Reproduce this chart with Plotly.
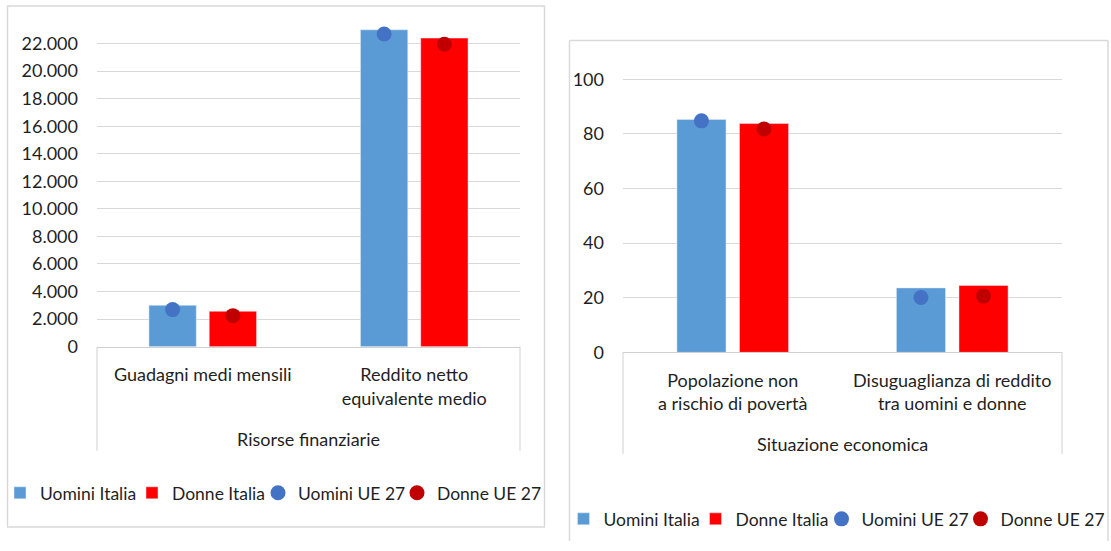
import plotly.graph_objects as go

# ---------------- data ----------------
cats_left = ["Guadagni medi mensili", "Reddito netto<br>equivalente medio"]
group_left = "Risorse finanziarie"
cats_right = ["Popolazione non<br>a rischio di povertà", "Disuguaglianza di reddito<br>tra uomini e donne"]
group_right = "Situazione economica"
series_names = ["Uomini Italia", "Donne Italia", "Uomini UE 27", "Donne UE 27"]

uomini_italia_left = [3000, 23000]
donne_italia_left = [2570, 22400]
uomini_ue_left = [2690, 22700]
donne_ue_left = [2250, 21950]

uomini_italia_right = [85.3, 23.6]
donne_italia_right = [83.8, 24.5]
uomini_ue_right = [84.8, 20.1]
donne_ue_right = [81.8, 20.6]

# ---------------- style ----------------
C_UI = "#5B9BD5"
C_DI = "#FF0000"
C_UE_U = "#4472C4"
C_UE_D = "#C00000"
FONT = "Lato"
FS = 18
FS_LEG = 17.5
TXT = "#1f1f1f"
GRID = "#D9D9D9"
W = 1111      # page width (px)
HE = 540      # visible plotting height of the page (px)
LEG_WIDTHS = [87, 81, 94, 100]   # legend entry widths (px)


def px_x(p):
    return p / W


def px_y(p):
    return (HE - p) / HE


fig = go.Figure()

panels = [
    ("x", "y", "legend", cats_left,
     [uomini_italia_left, donne_italia_left, uomini_ue_left, donne_ue_left]),
    ("x2", "y2", "legend2", cats_right,
     [uomini_italia_right, donne_italia_right, uomini_ue_right, donne_ue_right]),
]

for xa, ya, lg, cats, vals in panels:
    fig.add_trace(go.Bar(x=cats, y=vals[0], name=series_names[0], marker_color=C_UI,
                         offsetgroup="u", xaxis=xa, yaxis=ya, legend=lg,
                         legendwidth=LEG_WIDTHS[0]))
    fig.add_trace(go.Bar(x=cats, y=vals[1], name=series_names[1], marker_color=C_DI,
                         offsetgroup="d", xaxis=xa, yaxis=ya, legend=lg,
                         legendwidth=LEG_WIDTHS[1]))
    fig.add_trace(go.Scatter(x=cats, y=vals[2], name=series_names[2], mode="markers",
                             marker=dict(color=C_UE_U, size=15), offsetgroup="u",
                             xaxis=xa, yaxis=ya, legend=lg, legendwidth=LEG_WIDTHS[2]))
    fig.add_trace(go.Scatter(x=cats, y=vals[3], name=series_names[3], mode="markers",
                             marker=dict(color=C_UE_D, size=15), offsetgroup="d",
                             xaxis=xa, yaxis=ya, legend=lg, legendwidth=LEG_WIDTHS[3]))

# geometry (pixels)
L_X0, L_X1, L_Y0, L_YTOP = 97, 520, 346, 25
R_X0, R_X1, R_Y0, R_YTOP = 623, 1062, 351.7, 60

xcommon = dict(showgrid=False, showline=True, linecolor="#D0D0D0", linewidth=1,
               ticks="", tickfont=dict(family=FONT, size=FS, color=TXT),
               ticklabelstandoff=12, fixedrange=True)
ycommon = dict(showgrid=True, gridcolor=GRID, gridwidth=1, zeroline=False,
               showline=False, ticks="", tickfont=dict(family=FONT, size=FS, color=TXT),
               ticklabelstandoff=18, fixedrange=True)
legcommon = dict(orientation="h", xanchor="left", yanchor="middle",
                 font=dict(family=FONT, size=FS_LEG, color=TXT), itemwidth=30,
                 tracegroupgap=0, bgcolor="rgba(0,0,0,0)")

fig.update_layout(
    autosize=True,
    margin=dict(l=0, r=0, t=0, b=0),
    paper_bgcolor="white", plot_bgcolor="white",
    separators=",.",
    barmode="group", bargap=0.43, bargroupgap=0.215,
    scattermode="group", scattergap=0.43,
    font=dict(family=FONT, size=FS, color=TXT),
    xaxis=dict(domain=[px_x(L_X0), px_x(L_X1)], anchor="y", **xcommon),
    yaxis=dict(domain=[px_y(L_Y0), px_y(L_YTOP)], anchor="x",
               range=[0, (L_Y0 - L_YTOP) / 27.5 * 2000], dtick=2000,
               tickformat=",d", **ycommon),
    xaxis2=dict(domain=[px_x(R_X0), px_x(R_X1)], anchor="y2", **xcommon),
    yaxis2=dict(domain=[px_y(R_Y0), px_y(R_YTOP)], anchor="x2",
                range=[0, (R_Y0 - R_YTOP) / 54.5 * 20], dtick=20, **ycommon),
    legend=dict(x=px_x(0), y=px_y(492), **legcommon),
    legend2=dict(x=px_x(563.5), y=px_y(518), **legcommon),
    showlegend=True,
)

shapes = []
# left panel border
shapes.append(dict(type="rect", xref="paper", yref="paper",
                   x0=px_x(7.5), x1=px_x(544.5), y0=px_y(526), y1=px_y(6),
                   line=dict(color=GRID, width=1.5), fillcolor="rgba(0,0,0,0)", layer="below"))
# right panel border (open at the bottom, runs off the picture)
RB_L, RB_R, RB_T = 569.5, 1108, 40.5
for (xa0, ya0, xa1, ya1) in [(RB_L, HE, RB_L, RB_T), (RB_L, RB_T, RB_R, RB_T), (RB_R, RB_T, RB_R, HE)]:
    shapes.append(dict(type="line", xref="paper", yref="paper",
                       x0=px_x(xa0), y0=px_y(ya0), x1=px_x(xa1), y1=px_y(ya1),
                       line=dict(color=GRID, width=1.5), layer="below"))
# category box side lines
for x0, x1, ytop, ybot in [(L_X0, L_X1, L_Y0, 450), (R_X0, R_X1, R_Y0, 453)]:
    for xp in (x0, x1):
        shapes.append(dict(type="line", xref="paper", yref="paper",
                           x0=px_x(xp), x1=px_x(xp), y0=px_y(ytop), y1=px_y(ybot),
                           line=dict(color="#D0D0D0", width=1)))
fig.update_layout(shapes=shapes)

fig.add_annotation(text=group_left, xref="paper", yref="paper",
                   x=px_x((L_X0 + L_X1) / 2), y=px_y(438), showarrow=False,
                   xanchor="center", yanchor="middle",
                   font=dict(family=FONT, size=FS, color=TXT))
fig.add_annotation(text=group_right, xref="paper", yref="paper",
                   x=px_x((R_X0 + R_X1) / 2), y=px_y(443), showarrow=False,
                   xanchor="center", yanchor="middle",
                   font=dict(family=FONT, size=FS, color=TXT))

POST = (
    "var s=[document.documentElement,document.body];"
    "for(var i=0;i<s.length;i++){s[i].style.margin='0';s[i].style.padding='0';"
    "s[i].style.overflow='hidden';}"
    "var gd=document.getElementById('{plot_id}');"
    "gd.style.width='100vw';gd.style.height='100vh';"
    "Plotly.Plots.resize(gd);"
)
fig.write_html("out.html", config={"displayModeBar": False, "responsive": True},
               default_width="100vw", default_height="100vh", post_script=POST)
